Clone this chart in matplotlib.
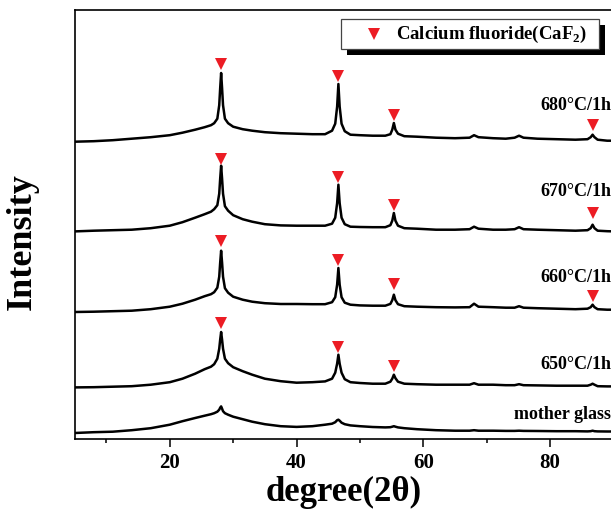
import matplotlib
matplotlib.use("Agg")
import matplotlib.pyplot as plt
from matplotlib.patches import Rectangle
from matplotlib.lines import Line2D
from matplotlib.ticker import MultipleLocator

plt.rcParams['font.family'] = ['Liberation Serif', 'DejaVu Serif']
plt.rcParams['font.weight'] = 'bold'
plt.rcParams['mathtext.fontset'] = 'custom'
plt.rcParams['mathtext.rm'] = 'Liberation Serif:bold'
plt.rcParams['mathtext.bf'] = 'Liberation Serif:bold'

two_theta = [5, 8, 11, 14, 17, 20, 22, 24, 25.5, 26.5,
             27.0, 27.5, 27.8, 27.95, 28.1, 28.25, 28.4, 28.7, 29.2, 30,
             31.5, 33, 35, 37.5, 40, 42.5, 44.5, 45.6, 46.1, 46.4,
             46.6, 46.8, 47.1, 47.6, 48.5, 50, 52, 54, 54.8, 55.1,
             55.35, 55.6, 56.0, 57, 59, 62, 65, 67.3, 68.0, 68.7,
             71, 73, 74.4, 75.1, 75.8, 78, 81, 84, 85.9, 86.4,
             86.7, 87.0, 87.5, 89, 90]

i_680 = [297, 297.5, 298.5, 300, 301.5, 303.5, 306, 309, 311.5, 313.5,
         315.5, 320, 333.5, 350.5, 365.7, 350.5, 333.5, 320, 315.5, 312,
         309.5, 308, 306.5, 305.5, 305, 304.5, 304.5, 308, 315, 332,
         354.7, 332, 315, 307.5, 304, 303.5, 303, 303, 304.5, 309,
         315.7, 309, 305, 302.5, 302, 301, 300.5, 301, 303.5, 301.5,
         300.5, 300, 301, 303, 301, 300, 299.5, 299, 299.5, 301.5,
         304, 301.5, 299, 298, 298]

i_670 = [207.3, 208, 208.5, 209, 210.5, 213, 216.5, 221, 224.5, 227,
         229.5, 233.5, 245, 260, 273, 260, 245, 232.5, 228, 223.5,
         219.5, 217, 214.5, 213.3, 213, 213, 213, 215, 221, 235.5,
         254, 235.5, 221, 214.5, 212, 211.7, 211.5, 211.5, 213.5, 218,
         225.7, 218, 213, 210.5, 210, 209, 209, 209.5, 212, 210,
         209, 209, 209.5, 211.5, 209.5, 209, 208.5, 208, 208.5, 210.5,
         214, 210.5, 208, 207.5, 207.3]

i_660 = [126.7, 127, 127.5, 128, 129.5, 132, 135, 139, 142.5, 144.5,
         146.5, 151, 162, 176, 188, 176, 162, 150.5, 146, 142,
         139, 137, 135.5, 134.7, 134.7, 134.5, 134.5, 136.5, 141.5, 154,
         170.7, 154, 141.5, 136, 134, 133.3, 133, 133, 134.8, 138.5,
         144, 138.5, 134.5, 132.5, 132, 131.5, 131.3, 131.5, 135, 132,
         131.5, 131, 131, 132.5, 131, 130.5, 130, 129.5, 130, 131.5,
         134, 131.5, 129.5, 129, 129]

i_650 = [51.3, 51.5, 52, 52.5, 54, 56.5, 60, 65, 69.5, 72,
         74.5, 80, 90, 99, 106.7, 99, 90, 80, 75.5, 71.5,
         67.5, 64, 60, 57.5, 56, 56.5, 57.3, 60, 66, 75,
         84, 75, 66, 59.5, 56.5, 55.7, 55, 55, 57, 60,
         64, 60.5, 57, 55, 54.5, 54, 54, 54, 55.5, 54,
         54, 53.5, 53.5, 54.5, 53.5, 53.3, 53, 53, 53, 54,
         55, 54, 52.5, 52.3, 52.3]

i_mother = [5.7, 6.5, 7, 8.5, 10.5, 14, 17.5, 20.7, 23, 24.5,
            25.5, 27, 29, 31, 32.3, 30, 27.5, 25.5, 24, 22,
            19.5, 17, 14.5, 12.5, 11.8, 12.5, 14, 15, 16.5, 18.5,
            19, 18, 16, 14.5, 13.3, 12.5, 11.7, 11.3, 11.5, 12,
            12.5, 12, 11.3, 10.5, 9.5, 8.5, 8, 8, 8.5, 8,
            8, 7.8, 7.8, 8, 7.8, 7.7, 7.5, 7.5, 7.3, 7.5,
            8, 7.5, 7.3, 7.2, 7.2]

curves = [i_680, i_670, i_660, i_650, i_mother]
labels = ["680\u00b0C/1h", "670\u00b0C/1h", "660\u00b0C/1h", "650\u00b0C/1h", "mother glass"]
label_y = [333, 247, 161, 74, 24]

mark_x_680 = [28.1, 46.6, 55.35, 86.7]
mark_y_680 = [374.5, 363, 324, 314]
mark_x_670 = [28.1, 46.6, 55.35, 86.8]
mark_y_670 = [279.7, 261.3, 233.3, 226]
mark_x_660 = [28.1, 46.6, 55.35, 86.8]
mark_y_660 = [197.3, 178.3, 154.7, 143]
mark_x_650 = [28.1, 46.6, 55.35]
mark_y_650 = [115.3, 92, 72.3]
marks = [(mark_x_680, mark_y_680), (mark_x_670, mark_y_670),
         (mark_x_660, mark_y_660), (mark_x_650, mark_y_650)]

RED = '#ec1c24'
W, H = 611, 518
fig = plt.figure(figsize=(W / 100, H / 100), dpi=100)
ax = fig.add_axes([74.7 / W, (H - 438.7) / H, (613.5 - 74.7) / W, (438.7 - 9.5) / H])

for ys in curves:
    ax.plot(two_theta, ys, color='black', lw=1.8, solid_joinstyle='round')

for mx, my in marks:
    ax.plot(mx, my, linestyle='none', marker='v', color=RED, markersize=8.5,
            markeredgewidth=0)

for lab, ly in zip(labels, label_y):
    ax.text(89.65, ly, lab, ha='right', va='center', fontsize=13, fontweight='bold',
            clip_on=False)

ax.set_xlim(5, 90)
ax.set_ylim(0, 429.2)
ax.set_yticks([])
ax.xaxis.set_major_locator(MultipleLocator(20))
ax.xaxis.set_minor_locator(MultipleLocator(10))
ax.tick_params(axis='x', which='major', direction='out', length=5.5, width=1.1,
               labelsize=15, pad=4.5)
ax.tick_params(axis='x', which='minor', direction='out', length=3, width=1.1)
for lbl in ax.get_xticklabels():
    lbl.set_fontweight('bold')
for sp in ax.spines.values():
    sp.set_linewidth(1.2)

fig.text(344 / W, 1 - 492 / H, "degree(2\u03b8)", ha='center', va='center',
         fontsize=25, fontweight='bold')
fig.text(22 / W, 1 - 241.7 / H, "Intensity", ha='center', va='center',
         rotation=90, fontsize=26, fontweight='bold')

# legend box with solid shadow
bx0, bx1, by0, by1 = 340.7, 599, 19, 49
off = 6
fig.patches.append(Rectangle(((bx0 + off) / W, 1 - (by1 + off) / H),
                             (bx1 - bx0) / W, (by1 - by0) / H,
                             transform=fig.transFigure, facecolor='black',
                             edgecolor='black', lw=0))
fig.patches.append(Rectangle((bx0 / W, 1 - by1 / H), (bx1 - bx0) / W, (by1 - by0) / H,
                             transform=fig.transFigure, facecolor='white',
                             edgecolor='#444444', lw=0.9))
fig.add_artist(Line2D([374 / W], [1 - 34 / H], transform=fig.transFigure,
                      marker='v', color=RED, markersize=8.5, markeredgewidth=0,
                      linestyle='none'))
fig.text(396.5 / W, 1 - 34 / H, r"Calcium fluoride(CaF$_\mathbf{2}$)", ha='left',
         va='center', fontsize=13.5, fontweight='bold')

fig.savefig("out.png", dpi=100)
